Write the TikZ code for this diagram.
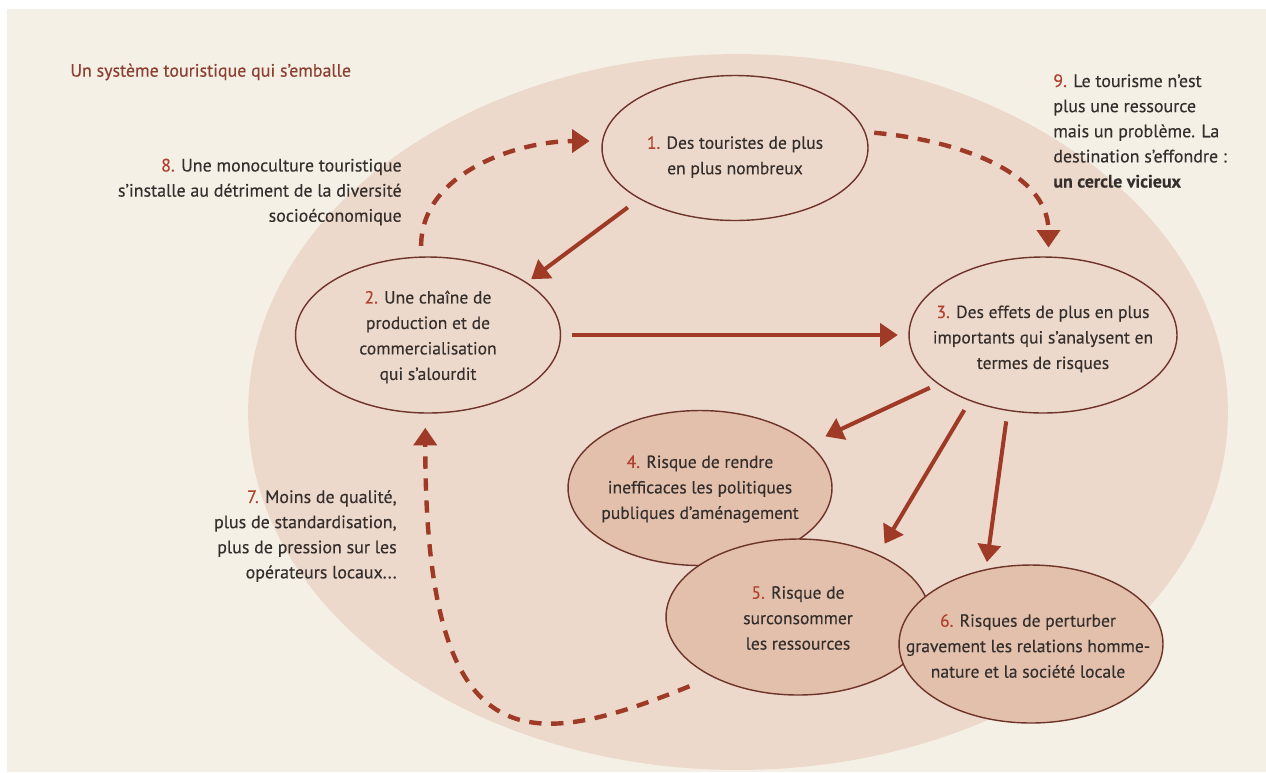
\documentclass[tikz,border=0pt]{standalone}
\usepackage{fontspec}
\setmainfont{PT Sans}[FakeBold=0.3]
\usetikzlibrary{shapes.geometric,arrows.meta}
\definecolor{bgcream}{RGB}{245,240,230}
\definecolor{bigpink}{RGB}{237,217,204}
\definecolor{darkfill}{RGB}{226,192,172}
\definecolor{ecol}{RGB}{110,52,42}
\definecolor{acol}{RGB}{158,58,38}
\definecolor{ncol}{RGB}{175,65,45}
\definecolor{tcol}{RGB}{52,46,44}
\definecolor{titlecol}{RGB}{140,62,48}
\newcommand\numc[1]{\textcolor{ncol}{#1}}
\begin{document}
\begin{tikzpicture}[x=0.02cm,y=0.02cm,
  ell/.style={ellipse, draw=ecol, line width=0.8pt, inner sep=0pt},
  lab/.style={align=center, text=tcol, font=\fontsize{10}{14.5}\selectfont, inner sep=0pt},
  side/.style={text=tcol, font=\fontsize{10.2}{14.3}\selectfont, inner sep=0pt},
  sarr/.style={draw=acol, line width=2.3pt, -{Triangle[width=13pt,length=10pt]}},
  darr/.style={sarr, line width=2.5pt, dash pattern=on 7pt off 5.5pt}]
\useasboundingbox (0,0) rectangle (1266,-772);
\clip (0,0) rectangle (1266,-772);
\fill[white] (0,0) rectangle (1266,-772);
\fill[bgcream] (7,-9) rectangle (1266,-772);
\fill[bigpink] (738,-412) ellipse [x radius=9.8cm, y radius=7.16cm];

\node[titlecol, font=\fontsize{10.2}{12}\selectfont, anchor=west, inner sep=0pt] (title) at (70,-72) {Un système touristique qui s’emballe};

\node[ell, minimum width=5.32cm, minimum height=2.9cm] (n1) at (735,-148) {};
\node[lab] (l1) at (735,-157) {\numc{1.} Des touristes de plus\\en plus nombreux};
\node[ell, minimum width=5.3cm, minimum height=3.12cm] (n2) at (428,-335) {};
\node[lab] (l2) at (428,-337) {\numc{2.} Une chaîne de\\production et de\\commercialisation\\qui s’alourdit};
\node[ell, minimum width=5.36cm, minimum height=3.12cm] (n3) at (1043,-335) {};
\node[lab] (l3) at (1043,-339) {\numc{3.} Des effets de plus en plus\\importants qui s’analysent en\\termes de risques};
\node[ell, fill=darkfill, minimum width=5.28cm, minimum height=3.1cm] (n4) at (700,-488) {};
\node[lab] (l4) at (700,-489) {\numc{4.} Risque de rendre\\inefficaces les politiques\\publiques d’aménagement};
\node[ell, fill=darkfill, minimum width=5.28cm, minimum height=3.12cm] (n5) at (798,-617) {};
\node[lab] (l5) at (798,-618) {\numc{5.} Risque de\\surconsommer\\les ressources};
\node[ell, fill=darkfill, minimum width=5.28cm, minimum height=3.16cm] (n6) at (1031,-644) {};
\node[lab] (l6) at (1028,-646) {\numc{6.} Risques de perturber\\gravement les relations homme-\\nature et la société locale};

\node[side, align=right, anchor=east] (t8) at (402,-192) {\numc{8.} Une monoculture touristique\\s’installe au détriment de la diversité\\socioéconomique};
\node[side, align=right, anchor=east] (t7) at (397,-536) {\numc{7.} Moins de qualité,\\plus de standardisation,\\plus de pression sur les\\opérateurs locaux...};
\node[side, align=left, anchor=west] (t9) at (1053,-131) {\numc{9.} Le tourisme n’est\\plus une ressource\\mais un problème. La\\destination s’effondre :\\\textbf{un cercle vicieux}};

\draw[sarr, shorten <=8pt, shorten >=3pt] (n1.208) -- (n2.28);
\draw[sarr, shorten <=6pt, shorten >=6pt] (n2.east) -- (n3.west);
\draw[sarr, shorten <=5pt, shorten >=10pt] (n3.205) -- (n4.22);
\draw[sarr, shorten <=6pt, shorten >=7pt] (n3.222) -- (n5.38);
\draw[sarr, shorten <=6pt, shorten >=4pt] (n3.245) -- (n6.121);

\draw[darr, shorten <=6pt, shorten >=7pt] (n2.95) to[out=90, in=180] (n1.177);
\draw[darr, shorten <=5pt, shorten >=5pt] (n1.7) to[out=-5, in=90] (n3.86);
\draw[darr, shorten <=14pt, shorten >=8pt] (n5.215) .. controls +(202:4cm) and +(270:7cm) .. (n2.268);
\end{tikzpicture}
\end{document}
